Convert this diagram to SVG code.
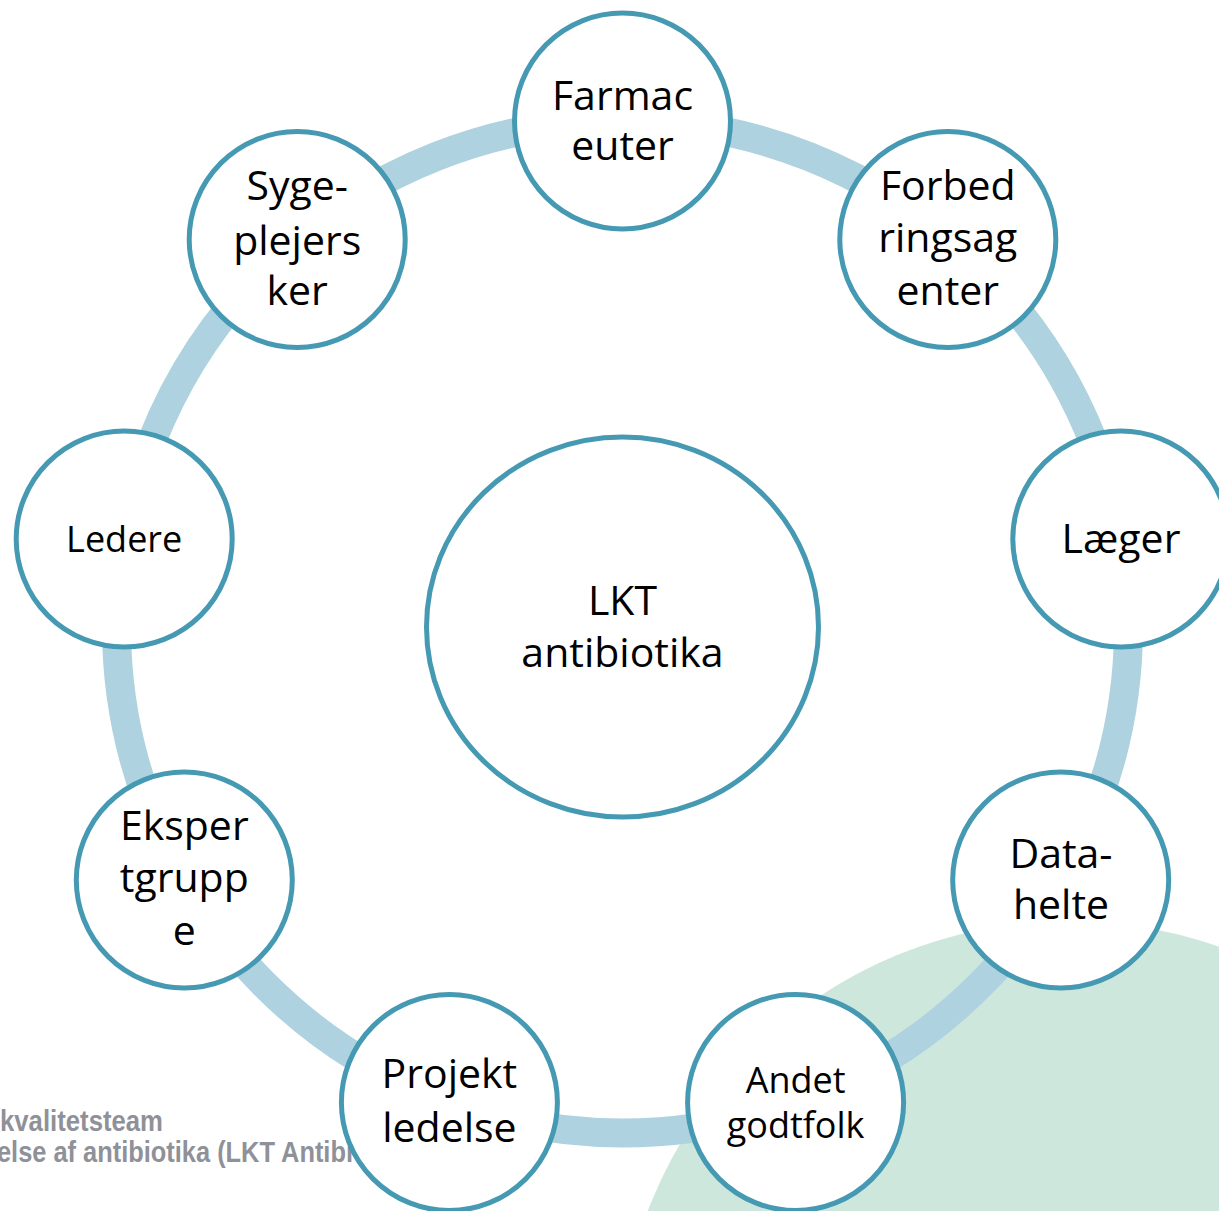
<svg xmlns="http://www.w3.org/2000/svg" width="1219" height="1211" viewBox="0 0 1219 1211">
<style>
.node{fill:#ffffff;stroke:#4599b2;stroke-width:5}
.lbl{font-family:"Open Sans","Noto Sans","Liberation Sans",sans-serif;font-size:41px;fill:#000000;text-anchor:middle}
.sm{font-size:36px}
.foot{font-family:"Liberation Sans",Arial,sans-serif;font-weight:bold;font-size:29px;fill:#8f9199}
.ring{fill:none;stroke:#aed2df;stroke-width:29}
</style>
<rect x="0" y="0" width="1219" height="1211" fill="#ffffff"/>
<circle cx="1069" cy="1372" r="451" fill="#cde7dd"/>
<g id="connectors">
<circle class="ring" cx="622.5" cy="627" r="506"/>
</g>
<g id="footer">
<text class="foot" x="0" y="1131" textLength="163" lengthAdjust="spacingAndGlyphs">kvalitetsteam</text>
<text class="foot" x="-3" y="1162" textLength="356" lengthAdjust="spacingAndGlyphs">else af antibiotika (LKT Antibi</text>
</g>
<g id="center">
<ellipse class="node" cx="622.5" cy="627" rx="196" ry="190"/>
<text class="lbl" x="622.5" y="615">LKT</text>
<text class="lbl" x="622.5" y="667">antibiotika</text>
</g>
<g id="farmaceuter">
<circle class="node" cx="622.5" cy="121" r="108"/>
<text class="lbl" x="622.5" y="110">Farmac</text>
<text class="lbl" x="622.5" y="160">euter</text>
</g>
<g id="forbedringsagenter">
<circle class="node" cx="947.8" cy="239.5" r="108"/>
<text class="lbl" x="947.8" y="200">Forbed</text>
<text class="lbl" x="947.8" y="252">ringsag</text>
<text class="lbl" x="947.8" y="305">enter</text>
</g>
<g id="laeger">
<circle class="node" cx="1120.8" cy="539" r="108"/>
<text class="lbl" x="1121" y="553">Læger</text>
</g>
<g id="datahelte">
<circle class="node" cx="1060.7" cy="880" r="108"/>
<text class="lbl" x="1061" y="868">Data-</text>
<text class="lbl" x="1061" y="919">helte</text>
</g>
<g id="andet">
<circle class="node" cx="795.6" cy="1102.5" r="108"/>
<text class="lbl sm" x="795.6" y="1093">Andet</text>
<text class="lbl sm" x="795.6" y="1138">godtfolk</text>
</g>
<g id="projekt">
<circle class="node" cx="449.4" cy="1102.5" r="108"/>
<text class="lbl" x="449.4" y="1088">Projekt</text>
<text class="lbl" x="449.4" y="1142">ledelse</text>
</g>
<g id="ekspertgruppe">
<circle class="node" cx="184.3" cy="880" r="108"/>
<text class="lbl" x="184.3" y="840">Eksper</text>
<text class="lbl" x="184.3" y="892">tgrupp</text>
<text class="lbl" x="184.3" y="945">e</text>
</g>
<g id="ledere">
<circle class="node" cx="124.2" cy="539" r="108"/>
<text class="lbl sm" x="124.2" y="552">Ledere</text>
</g>
<g id="sygeplejersker">
<circle class="node" cx="297.2" cy="239.5" r="108"/>
<text class="lbl" x="297.2" y="200">Syge-</text>
<text class="lbl" x="297.2" y="255">plejers</text>
<text class="lbl" x="297.2" y="305">ker</text>
</g>
</svg>
